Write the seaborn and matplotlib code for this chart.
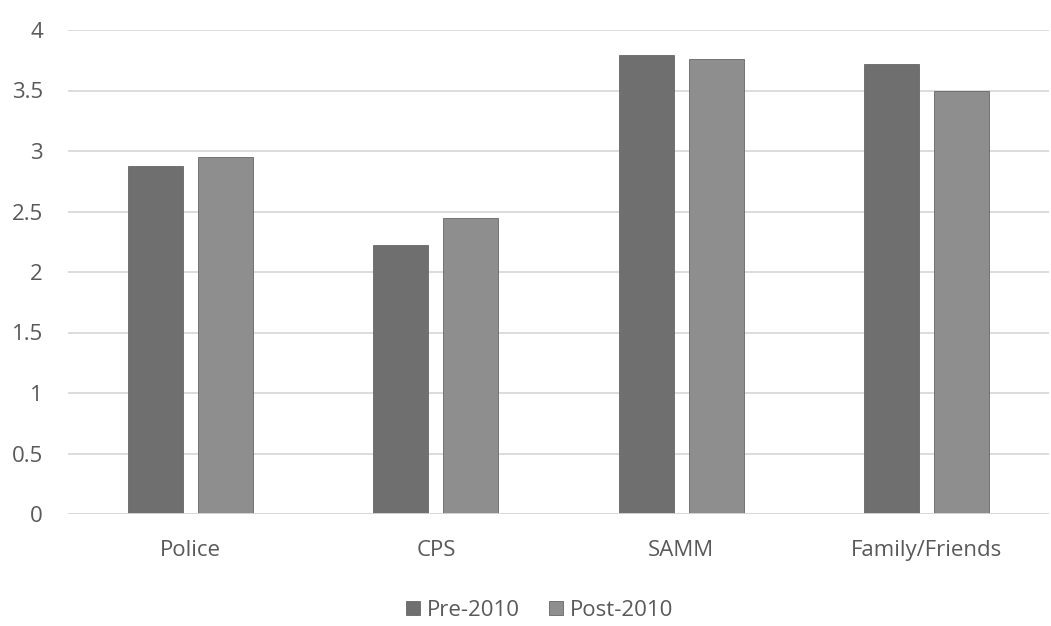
import matplotlib
matplotlib.use("Agg")
import matplotlib.pyplot as plt
import seaborn as sns
import pandas as pd

categories = ["Police", "CPS", "SAMM", "Family/Friends"]
pre_2010 = [2.88, 2.22, 3.79, 3.72]
post_2010 = [2.95, 2.45, 3.76, 3.50]
series_names = ["Pre-2010", "Post-2010"]
y_ticks = [0, 0.5, 1, 1.5, 2, 2.5, 3, 3.5, 4]
y_tick_labels = ["0", "0.5", "1", "1.5", "2", "2.5", "3", "3.5", "4"]

df = pd.DataFrame({
    "category": categories * 2,
    "series": [series_names[0]] * len(categories) + [series_names[1]] * len(categories),
    "value": pre_2010 + post_2010,
})

sns.set_theme(style="white")
plt.rcParams["font.family"] = ["Open Sans", "DejaVu Sans"]

text_color = "#595959"
palette = {"Pre-2010": "#6f6f6f", "Post-2010": "#8e8e8e"}
fs = 16

fig = plt.figure(figsize=(10.51, 6.26), dpi=100)
ax = fig.add_axes([68 / 1051, 1 - 514 / 626, (1049 - 68) / 1051, (514 - 30) / 626])

sns.barplot(data=df, x="category", y="value", hue="series", order=categories,
            hue_order=series_names, palette=palette, width=0.571, gap=0.214,
            saturation=1, edgecolor="#666666", linewidth=0.6, ax=ax, zorder=3)

ax.set_ylim(0, 4)
ax.set_xlim(-0.5, len(categories) - 0.5)
ax.set_yticks(y_ticks)
ax.set_yticklabels(y_tick_labels)
ax.yaxis.grid(True, color="#d9d9d9", linewidth=1.3, zorder=0)
ax.set_axisbelow(True)
for s in ax.spines.values():
    s.set_visible(False)
ax.axhline(0, color="#d9d9d9", linewidth=1.3, zorder=4)

ax.tick_params(axis="y", length=0, pad=18, labelsize=fs, labelcolor=text_color)
ax.tick_params(axis="x", length=0, pad=19, labelsize=fs, labelcolor=text_color)
ax.set_xlabel("")
ax.set_ylabel("")

handles, labels = ax.get_legend_handles_labels()
ax.legend_.remove()
fig.legend(handles, labels, loc="center", bbox_to_anchor=(540 / 1051, 1 - 610 / 626),
           ncol=2, frameon=False, fontsize=fs, labelcolor=text_color,
           handlelength=0.6, handleheight=0.6, handletextpad=0.35, columnspacing=1.3)

fig.savefig("out.png", dpi=100, facecolor="white")
